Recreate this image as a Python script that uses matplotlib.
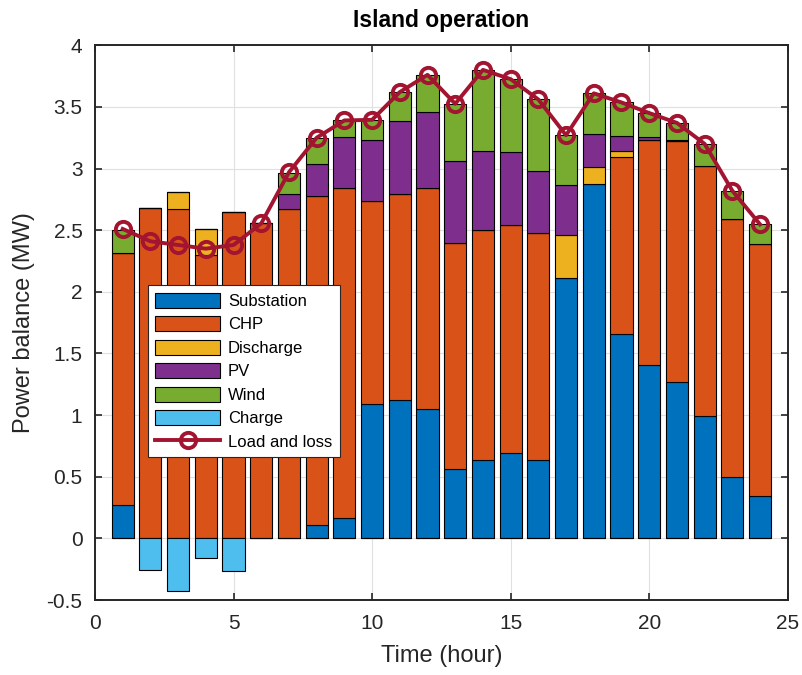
import matplotlib
matplotlib.use("Agg")
import matplotlib.pyplot as plt
import numpy as np

plt.rcParams["font.family"] = ["Liberation Sans", "DejaVu Sans"]

hours = np.arange(1, 25)

substation = [0.275, 0, 0, 0, 0, 0, 0, 0.108, 0.167, 1.087, 1.122, 1.047,
              0.566, 0.64, 0.69, 0.64, 2.11, 2.877, 1.662, 1.405, 1.27, 0.99, 0.50, 0.348]
chp = [2.04, 2.68, 2.67, 2.295, 2.65, 2.555, 2.67, 2.672, 2.673, 1.648, 1.668, 1.798,
       1.834, 1.86, 1.855, 1.84, 0, 0, 1.434, 1.829, 1.956, 2.033, 2.09, 2.037]
discharge = [0, 0, 0.14, 0.215, 0, 0, 0, 0, 0, 0, 0, 0,
             0, 0, 0, 0, 0.35, 0.133, 0.049, 0, 0, 0, 0, 0]
pv = [0, 0, 0, 0, 0, 0, 0.12, 0.26, 0.415, 0.495, 0.595, 0.615,
      0.66, 0.645, 0.585, 0.50, 0.405, 0.267, 0.119, 0.02, 0.008, 0, 0, 0]
wind = [0.185, 0, 0, 0, 0, 0, 0.176, 0.21, 0.135, 0.165, 0.235, 0.30,
        0.465, 0.655, 0.595, 0.58, 0.405, 0.333, 0.272, 0.197, 0.136, 0.177, 0.23, 0.162]
charge = [0, -0.259, -0.423, -0.162, -0.261, 0, 0, 0, 0, 0, 0, 0,
          0, 0, 0, 0, 0, 0, 0, 0, 0, 0, 0, 0]
load_loss = [2.51, 2.41, 2.38, 2.35, 2.38, 2.555, 2.97, 3.25, 3.39, 3.395, 3.62, 3.76,
             3.525, 3.80, 3.725, 3.56, 3.27, 3.61, 3.536, 3.45, 3.37, 3.20, 2.82, 2.547]

series = [
    ("Substation", substation, "#0072BD"),
    ("CHP", chp, "#D95319"),
    ("Discharge", discharge, "#EDB120"),
    ("PV", pv, "#7E2F8E"),
    ("Wind", wind, "#77AC30"),
]

fig = plt.figure(figsize=(8.03, 6.75), dpi=100)
ax = fig.add_axes([0.1183, 0.111, 0.8627, 0.822])

handles = []
bottom = np.zeros(len(hours))
for name, vals, color in series:
    vals = np.array(vals)
    h = ax.bar(hours, vals, 0.8, bottom=bottom, color=color, edgecolor="black",
               linewidth=0.8, label=name, zorder=3)
    handles.append(h)
    bottom += vals
h = ax.bar(hours, charge, 0.8, color="#4DBEEE", edgecolor="black", linewidth=0.8,
           label="Charge", zorder=3)
handles.append(h)
line, = ax.plot(hours, load_loss, color="#A2142F", linewidth=2.8, marker="o",
                markersize=11, markerfacecolor="none", markeredgewidth=2.8,
                label="Load and loss", zorder=4)
handles.append(line)

ax.set_xlim(0, 25)
ax.set_ylim(-0.5, 4)
ax.set_xticks(np.arange(0, 26, 5))
ax.set_yticks(np.arange(-0.5, 4.01, 0.5))
ax.set_yticklabels(["-0.5", "0", "0.5", "1", "1.5", "2", "2.5", "3", "3.5", "4"])
ax.grid(True, color="#e0e0e0", linewidth=0.8, zorder=0)
ax.tick_params(labelsize=15, direction="in", length=5, width=1.2, top=True, right=True,
               colors="#262626")
ax.tick_params(axis="x", pad=10)
ax.tick_params(axis="y", pad=9)
for s in ax.spines.values():
    s.set_linewidth(1.4)
    s.set_color("#262626")

ax.set_xlabel("Time (hour)", fontsize=17, color="#262626", labelpad=9)
ax.set_ylabel("Power balance (MW)", fontsize=17, color="#262626", labelpad=8)
ax.set_title("Island operation", fontsize=16.5, fontweight="bold", pad=13)

leg = ax.legend(handles=handles, loc="upper left", bbox_to_anchor=(0.0765, 0.5676),
                fontsize=12, fancybox=False, framealpha=1, edgecolor="#262626",
                handlelength=3.9, handleheight=1.0, borderpad=0.45,
                labelspacing=0.44, handletextpad=0.45, borderaxespad=0)
leg.get_frame().set_linewidth(0.8)
leg.set_zorder(10)

fig.savefig("out.png", dpi=100)
